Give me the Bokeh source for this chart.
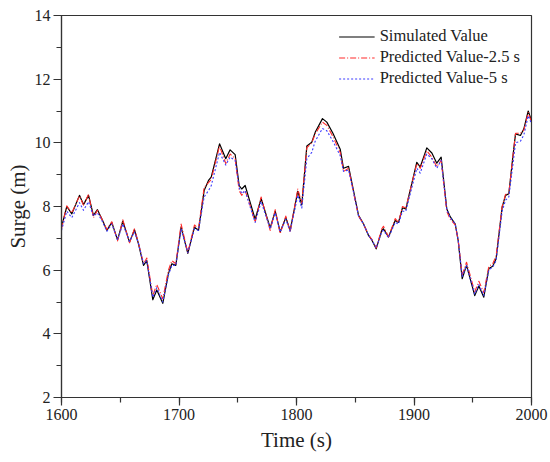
from bokeh.plotting import figure
from bokeh.models import SingleIntervalTicker, Range1d, Legend, LegendItem
from bokeh.embed import file_html
from bokeh.resources import INLINE

time_s = [1600, 1604.5, 1608.8, 1615.3, 1618.7, 1623, 1627.2, 1630.6, 1634.5, 1638.6,
          1642.8, 1647.7, 1652.2, 1657.9, 1662.1, 1665.5, 1669.8, 1672.6, 1677.7, 1681.1,
          1686.2, 1691, 1693.9, 1697.3, 1701.8, 1707.5, 1713.2, 1716.6, 1721.4, 1725.1,
          1727.4, 1734.5, 1739.8, 1743.5, 1747.8, 1751.2, 1753.4, 1756.3, 1760, 1764.8,
          1769.9, 1777.6, 1781.9, 1786.1, 1790.9, 1794.6, 1801.1, 1804.5, 1808.8, 1813,
          1815.9, 1822.1, 1825.8, 1831, 1837.2, 1840, 1844.3, 1848.5, 1852.8, 1857,
          1861.3, 1864.1, 1867.8, 1872.6, 1874, 1878.3, 1884, 1886.8, 1890.2, 1893,
          1902.4, 1905.3, 1910.9, 1915.2, 1919.4, 1923.1, 1927.9, 1930.8, 1935.1, 1937.6,
          1941, 1944.7, 1951.7, 1955.2, 1959.4, 1963.7, 1967, 1969.9, 1975, 1977.9,
          1980.7, 1984.1, 1986.4, 1990.6, 1993.5, 1997.2, 2000]

simulated = [7.35, 8.0, 7.77, 8.35, 8.06, 8.35, 7.72, 7.9, 7.6, 7.25,
             7.5, 6.95, 7.54, 6.88, 7.27, 6.83, 6.15, 6.3, 5.07, 5.38,
             4.96, 5.89, 6.2, 6.15, 7.35, 6.53, 7.35, 7.25, 8.5, 8.82,
             8.92, 9.97, 9.5, 9.78, 9.63, 8.66, 8.55, 8.66, 8.2, 7.6,
             8.25, 7.33, 7.85, 7.2, 7.65, 7.25, 8.48, 8.05, 9.9, 10.02,
             10.33, 10.76, 10.65, 10.3, 9.8, 9.2, 9.26, 8.5, 7.72, 7.46,
             7.09, 6.95, 6.67, 7.25, 7.3, 7.04, 7.56, 7.5, 7.96, 7.92,
             9.39, 9.24, 9.84, 9.68, 9.36, 9.55, 7.92, 7.68, 7.45, 6.93,
             5.73, 6.15, 5.2, 5.5, 5.15, 6.05, 6.12, 6.36, 7.98, 8.35,
             8.4, 9.55, 10.28, 10.23, 10.44, 11.0, 10.7]

pred_2_5 = [7.3, 8.02, 7.8, 8.33, 8.05, 8.38, 7.65, 7.88, 7.6, 7.28,
            7.52, 6.92, 7.58, 6.86, 7.3, 6.85, 6.2, 6.38, 5.2, 5.55,
            5.1, 6.0, 6.3, 6.2, 7.45, 6.55, 7.42, 7.3, 8.6, 8.75,
            8.85, 9.9, 9.35, 9.65, 9.5, 8.5, 8.35, 8.5, 8.1, 7.5,
            8.3, 7.25, 7.9, 7.15, 7.7, 7.2, 8.55, 8.1, 9.85, 10.0,
            10.28, 10.65, 10.55, 10.2, 9.7, 9.1, 9.2, 8.45, 7.7, 7.45,
            7.1, 6.97, 6.7, 7.3, 7.38, 7.05, 7.62, 7.5, 8.0, 7.95,
            9.35, 9.2, 9.75, 9.55, 9.25, 9.45, 7.85, 7.6, 7.42, 6.95,
            5.85, 6.25, 5.32, 5.65, 5.3, 6.12, 6.2, 6.45, 8.0, 8.38,
            8.42, 9.55, 10.3, 10.3, 10.4, 10.95, 10.65]

pred_5 = [7.25, 7.85, 7.65, 8.12, 7.88, 8.15, 7.7, 7.8, 7.55, 7.22,
          7.45, 6.95, 7.45, 6.9, 7.2, 6.85, 6.2, 6.3, 5.15, 5.45,
          5.0, 5.85, 6.15, 6.15, 7.3, 6.55, 7.3, 7.25, 8.3, 8.5,
          8.65, 9.7, 9.3, 9.55, 9.45, 8.6, 8.4, 8.5, 8.05, 7.5,
          8.15, 7.3, 7.8, 7.2, 7.6, 7.22, 8.35, 7.95, 9.5, 9.7,
          10.05, 10.45, 10.38, 10.05, 9.6, 9.1, 9.15, 8.45, 7.7, 7.45,
          7.1, 6.95, 6.7, 7.2, 7.25, 7.02, 7.5, 7.45, 7.85, 7.85,
          9.2, 9.05, 9.65, 9.5, 9.2, 9.45, 7.9, 7.65, 7.45, 6.95,
          5.8, 6.15, 5.25, 5.55, 5.2, 6.0, 6.1, 6.3, 7.85, 8.2,
          8.3, 9.3, 10.0, 10.05, 10.25, 10.85, 10.6]

series_names = ["Simulated Value", "Predicted Value-2.5 s", "Predicted Value-5 s"]

FONT = "Liberation Serif"

p = figure(width=550, height=462, output_backend="svg", toolbar_location=None,
           x_range=Range1d(1600, 2000), y_range=Range1d(2, 14),
           min_border_left=61, min_border_right=19, min_border_top=15, min_border_bottom=65)

p.grid.visible = False
p.background_fill_color = "white"
p.border_fill_color = "white"
p.outline_line_color = "#333333"
p.outline_line_width = 1.2
p.outline_line_alpha = 1

p.xaxis.ticker = SingleIntervalTicker(interval=100, num_minor_ticks=2)
p.yaxis.ticker = SingleIntervalTicker(interval=2, num_minor_ticks=2)
for ax in (p.xaxis[0], p.yaxis[0]):
    ax.axis_line_color = "#333333"
    ax.axis_line_width = 1.2
    ax.major_tick_line_color = "#333333"
    ax.minor_tick_line_color = "#333333"
    ax.major_tick_line_width = 1.2
    ax.minor_tick_line_width = 1.2
    ax.major_tick_in = 0
    ax.major_tick_out = 8
    ax.minor_tick_in = 0
    ax.minor_tick_out = 5
    ax.major_label_text_font = FONT
    ax.major_label_text_font_size = "16px"
    ax.major_label_text_color = "#222222"
    ax.axis_label_text_font = FONT
    ax.axis_label_text_font_size = "21px"
    ax.axis_label_text_font_style = "normal"
    ax.axis_label_text_color = "#222222"
    ax.major_label_standoff = 3

p.xaxis.axis_label_standoff = 5
p.yaxis.axis_label_standoff = 2
p.xaxis.axis_label = "Time (s)"
p.yaxis.axis_label = "Surge (m)"

r1 = p.line(time_s, simulated, line_color="black", line_width=1.2, line_join="round")
r2 = p.line(time_s, pred_2_5, line_color="#ff2a2a", line_width=1.1, line_dash="6 2 1 2",
            line_join="round")
r3 = p.line(time_s, pred_5, line_color="#3a3aff", line_width=1.1, line_dash="2 2",
            line_join="round")

legend = Legend(items=[LegendItem(label=series_names[0], renderers=[r1]),
                       LegendItem(label=series_names[1], renderers=[r2]),
                       LegendItem(label=series_names[2], renderers=[r3])],
                location="top_right")
legend.border_line_color = None
legend.background_fill_alpha = 0
legend.label_text_font = FONT
legend.label_text_font_size = "16.5px"
legend.label_text_color = "#222222"
legend.glyph_width = 36
legend.glyph_height = 19
legend.label_height = 19
legend.spacing = 1
legend.padding = 4
legend.margin = 11
legend.label_standoff = 5
p.add_layout(legend)

open("out.html", "w").write(file_html(p, INLINE))
